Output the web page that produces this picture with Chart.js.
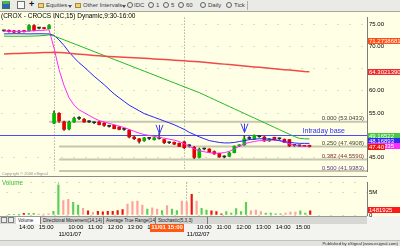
<!DOCTYPE html>
<html>
<head>
<meta charset="utf-8">
<script src="https://cdn.jsdelivr.net/npm/chart.js@4.4.1/dist/chart.umd.min.js"></script>
<style>
body { margin: 0; width: 400px; height: 246px; overflow: hidden; position: relative; background: #f3f3ef; font-family: 'Liberation Sans', Arial, sans-serif; }
.abs { position: absolute; white-space: nowrap; }
#toolbar { left: 0; top: 0; width: 400px; height: 11px; background: #ebebe6; border-bottom: 1px solid #a8a8a0; font-size: 6px; color: #404040; }
#toolbar .t { top: 2px; }
.folder { top: 3px; width: 6px; height: 5px; background: #ecd27a; border: 1px solid #a88a38; box-sizing: border-box; }
.drop { top: 5px; width: 0; height: 0; border-left: 2px solid transparent; border-right: 2px solid transparent; border-top: 3px solid #505050; }
.circ { top: 2px; width: 6px; height: 6px; border: 1px solid #606060; border-radius: 50%; box-sizing: border-box; }
#plotbg { left: 0; top: 12px; width: 400px; height: 204px; background: #ffffe6; }
canvas { position: absolute; left: 0; }
#price { top: 12px; }
#vol { top: 177px; }
#sep { left: 0; top: 176px; width: 367px; height: 1px; background: #8c8c8c; }
#title { left: 1px; top: 12px; font-size: 6.5px; color: #000; }
#copy { left: 2px; top: 171px; font-size: 4px; color: #909090; }
#volname { left: 2px; top: 179px; font-size: 6.3px; color: #3cbc3c; }
#tabs { left: 0; top: 216px; width: 367px; height: 7px; background: #d6d6d2; border-top: 1px solid #9a9a9a; font-size: 4.6px; color: #202020; }
.navb { top: 0; width: 6px; height: 6px; border: 1px solid #808080; background: #ececec; box-sizing: border-box; }
.tab { top: 0; height: 7px; line-height: 7px; padding-left: 2px; border-right: 1px solid #7a7a7a; box-sizing: border-box; overflow: hidden; }
.tab.on { background: #ffffff; }
#status { left: 0; top: 240px; width: 400px; height: 6px; background: #e2e2de; border-top: 1px solid #c0c0c0; font-size: 4.2px; color: #303030; }
</style>
</head>
<body>
<div id="toolbar" class="abs">
  <div class="abs" style="left:2px;top:1px;width:8px;height:8px;box-sizing:border-box;background:#2e62c8;border:1px solid #3a7a3a;border-top:3px solid #48b848"></div>
  <div class="abs" style="left:17px;top:1px;width:8px;height:8px;box-sizing:border-box;border:1px solid #707070;background:#fafafa"></div>
  <div class="abs" style="left:29px;top:-1px;font-size:9px;font-weight:bold;color:#111">+</div>
  <div class="abs folder" style="left:38px"></div>
  <div class="abs t" style="left:46px">Equities</div>
  <div class="abs drop" style="left:68px"></div>
  <div class="abs folder" style="left:75px"></div>
  <div class="abs t" style="left:83px">Other Intervals</div>
  <div class="abs drop" style="left:122px"></div>
  <div class="abs circ" style="left:127px"></div><div class="abs t" style="left:134px">IDC</div>
  <div class="abs circ" style="left:148px"></div><div class="abs t" style="left:156px">1</div>
  <div class="abs circ" style="left:163px"></div><div class="abs t" style="left:171px">5</div>
  <div class="abs circ" style="left:178px"></div><div class="abs t" style="left:186px">60</div>
  <div class="abs circ" style="left:200px"></div><div class="abs t" style="left:208px">Daily</div>
  <div class="abs circ" style="left:226px"></div><div class="abs t" style="left:234px">Tick</div>
  <div class="abs" style="left:247px;top:1px;width:1px;height:9px;background:#b0b0a8"></div>
</div>
<div id="plotbg" class="abs"></div>
<canvas id="price" width="400" height="165"></canvas>
<canvas id="vol" width="400" height="63"></canvas>
<div id="sep" class="abs"></div>
<div id="title" class="abs">(CROX - CROCS INC,15) Dynamic,9:30-16:00</div>
<div id="copy" class="abs">Copyright © 2006 eSignal</div>
<div id="volname" class="abs">Volume</div>
<div id="tabs" class="abs">
  <div class="abs navb" style="left:1px"></div>
  <div class="abs navb" style="left:8px"></div>
  <div class="abs tab on" style="left:16px;width:25px">Volume</div>
  <div class="abs tab" style="left:41px;width:63px">Directional Movement(14,14)</div>
  <div class="abs tab" style="left:104px;width:52px">Average True Range(14)</div>
  <div class="abs tab" style="left:156px;width:52px">Stochastic(5,3,3)</div>
</div>
<div id="status" class="abs"><span class="abs" style="right:2px;top:0">Published by eSignal (www.esignal.com)</span></div>

<script>
// 15 minute bars: 10 bars of 10/31, then full sessions of 11/01 and 11/02
var sessionTimes = ['9:30','9:45','10:00','10:15','10:30','10:45','11:00','11:15','11:30','11:45','12:00','12:15','12:30',
    '12:45','13:00','13:15','13:30','13:45','14:00','14:15','14:30','14:45','15:00','15:15','15:30','15:45'];
var emptySlots = 11;
var dayStarts = [10, 36];

var tickBar = [2, 6, 10, 12, 16, 20, 24, 28, 32, 36, 38, 42, 46, 50, 54, 58];
var tickText = ['14:00', '15:00', ['', '11/01/07'], '10:00', '11:00', '12:00', '13:00', '14:00', '15:00',
    ['', '11/02/07'], '10:00', '11:00', '12:00', '13:00', '14:00', '15:00'];

var opens = [73.5,73.6,73.5,73.4,73.5,73.5,74.7,74.1,74.1,74.0,
    52.7,54.9,53.0,51.4,53.0,53.8,53.6,53.0,52.8,52.95,52.7,52.0,52.2,51.8,51.3,51.1,49.6,49.2,48.8,49.3,49.0,49.3,49.0,48.3,48.4,48.2,
    48.5,47.6,47.3,45.0,46.9,46.9,46.3,45.9,45.1,45.3,46.1,47.6,47.8,49.3,49.1,49.7,49.6,48.7,49.5,49.2,49.1,49.0,47.7,47.6,47.6,47.7];
var highs = [73.6,73.7,73.6,73.6,73.6,74.9,74.9,74.3,74.3,74.9,
    55.5,55.1,53.2,53.2,54.1,54.2,53.8,53.3,53.0,53.1,52.9,52.3,52.3,52.0,51.5,51.3,49.8,49.3,49.5,49.5,49.5,50.4,49.1,48.5,48.5,48.3,
    48.7,47.9,47.5,47.1,47.1,47.0,46.5,46.0,45.4,46.2,47.6,47.9,50.0,49.7,50.1,50.0,49.8,49.3,49.6,49.4,49.2,49.1,47.9,47.8,47.7,47.8];
var lows = [73.4,73.2,73.1,73.1,73.2,73.4,73.5,73.9,73.9,73.9,
    52.6,52.9,51.1,51.2,52.9,53.5,52.9,52.8,52.6,52.3,52.0,51.8,51.4,51.2,51.1,49.4,49.0,48.2,48.6,49.0,48.9,49.1,48.1,48.1,47.9,47.4,
    47.0,47.3,44.7,44.9,46.7,46.1,45.7,45.0,44.9,45.2,46.0,47.4,47.7,49.0,49.0,49.5,48.6,48.6,48.9,49.0,48.3,47.4,47.5,47.4,47.4,47.3];
var closes = [73.5,73.3,73.2,73.2,73.3,74.7,73.6,74.1,74.0,74.7,
    54.9,53.2,51.3,52.9,53.8,53.8,53.0,53.0,52.8,52.4,52.2,52.0,51.5,51.3,51.3,49.6,49.2,48.6,49.4,49.3,49.4,49.3,48.3,48.3,48.0,47.5,
    47.2,47.6,45.0,46.8,46.9,46.2,45.8,45.1,45.1,46.0,47.5,47.7,49.2,49.3,50.0,49.7,48.7,49.2,49.0,49.2,48.4,47.6,47.7,47.6,47.5,47.4];

// volume in millions, tone g = up, r = down, p = light down
var volumes = [0.05,0.05,0.05,0.35,0.35,0.35,0.2,0.2,0.25,0.8,
    6.7,3.2,3.5,2.8,2.2,1.5,0.9,0.6,0.8,0.7,0.8,0.8,1.0,1.2,2.4,3.0,3.1,2.2,1.3,1.6,1.3,1.0,2.1,1.3,1.0,3.1,
    2.9,4.6,3.1,1.5,1.1,0.9,0.77,0.26,0.77,0.45,1.4,0.77,2.8,0.9,1.1,0.77,0.45,0.45,0.26,0.26,0.45,0.64,0.64,0.9,0.45,0.9];
var volTone = ['g','g','g','r','g','g','p','p','p','g',
    'g','p','p','g','g','p','r','p','r','r','r','r','r','r','p','p','p','p','g','p','p','g','p','g','g','p',
    'p','r','p','g','g','r','r','r','g','g','g','g','g','p','p','p','g','g','g','g','p','p','p','g','g','r'];

var lineRed = [68.29,68.33,68.37,68.41,68.45,68.49,68.53,68.57,68.60,68.63,
    68.65,68.62,68.55,68.45,68.35,68.25,68.15,68.05,67.96,67.88,67.80,67.74,67.68,67.62,67.55,67.49,67.43,67.37,67.31,67.25,67.18,67.10,67.03,66.96,66.88,66.81,
    66.74,66.66,66.59,66.52,66.41,66.31,66.21,66.10,66.00,65.90,65.79,65.69,65.59,65.48,65.38,65.28,65.17,65.07,64.97,64.86,64.76,64.66,64.55,64.45,64.35,64.30];
var lineGreen = [72.30,72.28,72.27,72.27,72.28,72.30,72.32,72.36,72.45,72.58,
    72.34,71.90,71.46,71.02,70.58,70.14,69.70,69.26,68.82,68.38,67.94,67.50,67.06,66.62,66.18,65.74,65.30,64.86,64.42,63.98,63.54,63.10,62.66,62.22,61.78,61.34,
    60.90,60.46,60.02,59.58,59.06,58.54,58.02,57.50,56.98,56.46,55.94,55.42,54.90,54.38,53.86,53.34,52.82,52.30,51.78,51.26,50.74,50.22,49.70,49.30,49.20,49.17];
var lineBlue = [72.80,72.82,72.84,72.83,72.82,72.80,72.82,72.83,72.82,72.78,
    72.48,71.44,70.18,68.71,67.45,66.30,65.36,64.31,63.26,62.32,61.37,60.33,59.28,58.44,57.60,56.76,56.13,55.50,54.87,54.45,54.03,53.62,53.20,52.78,52.36,51.83,
    51.31,50.65,50.16,49.63,49.21,48.79,48.58,48.38,48.27,48.27,48.38,48.58,48.79,49.00,49.11,49.21,49.21,49.11,49.00,48.79,48.58,48.38,48.27,48.17,48.17,48.17];
var lineMagenta = [73.45,73.42,73.38,73.35,73.33,73.45,73.50,73.58,73.62,73.75,
    69.55,64.73,61.16,58.44,56.76,55.71,55.08,54.45,53.83,53.30,52.99,52.67,52.36,52.04,51.73,51.31,50.89,50.47,50.16,49.95,49.74,49.53,49.32,49.11,48.90,48.58,
    48.06,47.54,46.91,46.49,46.28,46.07,45.96,45.96,46.07,46.38,46.91,47.54,48.06,48.38,48.58,48.79,48.79,48.90,48.90,48.79,48.48,48.06,47.75,47.54,47.54,47.49];

var fibRatio = ['0.000', '0.250', '0.382', '0.500'];
var fibLevel = [53.0433, 47.4908, 44.5590, 41.9383];
var fibStart = [9, 11, 11, 11];
var fibTextColor = ['#3c3c3c', '#4a4a30', '#7a3232', '#5e3c82'];

var baseLevel = 50.0;
var baseText = 'Intraday base';

var markBar = [31, 48];
var markTip = [50.3, 50.6];

var tagText = ['71.2738681', '64.3021390', '49.16522', '48.16893', '47.49335', '47.40'];
var tagValue = [71.2738681, 64.302139, 49.16522, 48.16893, 47.49335, 47.40];
var tagColor = ['#ff4e16', '#f02a2a', '#46c846', '#2e2ef4', '#ff2eff', '#f01414'];

var volTagText = '1481925';
var volTagValue = 1.481925;
var cursorBar = 32;
var cursorText = '11/01 15:00';

var hiddenTicks = [65, 50];

Chart.defaults.font.family = "'Liberation Sans', Arial, sans-serif";
Chart.defaults.font.size = 6;

var labels = sessionTimes.slice(16).concat(sessionTimes, sessionTimes);
while (labels.length < opens.length + emptySlots) labels.push('');

function pad(arr) {
    return arr.concat(new Array(emptySlots).fill(null));
}

var bodies = opens.map(function (o, i) { return [o, closes[i]]; });
var wicks = lows.map(function (l, i) { return [l, highs[i]]; });

function candleColor(i) {
    if (closes[i] > opens[i]) return '#00b800';
    if (closes[i] < opens[i]) return '#e40000';
    return '#2a2a2a';
}

var toneColor = { g: '#58d058', r: '#ee1010', p: '#ffa0a0' };

var sepColor = function (c) {
    return dayStarts.indexOf(c.index) >= 0 ? '#8c8c8c' : 'rgba(0,0,0,0)';
};

function tag(ctx, x, y, text, color, w) {
    ctx.fillStyle = color;
    ctx.fillRect(x, Math.round(y - 3), w, 6);
    ctx.fillStyle = '#ffffff';
    ctx.font = "6px 'Liberation Sans', Arial, sans-serif";
    ctx.textBaseline = 'middle';
    ctx.textAlign = 'left';
    ctx.fillText(text, x + 1, Math.round(y - 3) + 3.3);
}

var priceExtras = {
    id: 'priceExtras',
    beforeDatasetsDraw: function (chart) {
        var ctx = chart.ctx, xs = chart.scales.x, ys = chart.scales.y, area = chart.chartArea;
        ctx.save();
        ctx.strokeStyle = '#c6c6ae';
        ctx.lineWidth = 2;
        fibLevel.forEach(function (lv, k) {
            var y = ys.getPixelForValue(lv);
            ctx.beginPath();
            ctx.moveTo(xs.getPixelForValue(fibStart[k]), y);
            ctx.lineTo(area.right, y);
            ctx.stroke();
        });
        var by = Math.round(ys.getPixelForValue(baseLevel)) + 0.5;
        ctx.strokeStyle = '#4a4aff';
        ctx.lineWidth = 1;
        ctx.beginPath();
        ctx.moveTo(area.left - 2, by);
        ctx.lineTo(area.right, by);
        ctx.stroke();
        ctx.restore();
    },
    afterDatasetsDraw: function (chart) {
        var ctx = chart.ctx, xs = chart.scales.x, ys = chart.scales.y, area = chart.chartArea;
        ctx.save();
        ctx.textAlign = 'right';
        ctx.textBaseline = 'alphabetic';
        ctx.font = "6px 'Liberation Sans', Arial, sans-serif";
        fibLevel.forEach(function (lv, k) {
            ctx.fillStyle = fibTextColor[k];
            ctx.fillText(fibRatio[k] + ' (' + lv.toFixed(4) + ')', area.right - 3, ys.getPixelForValue(lv) - 1.5);
        });
        ctx.font = "7px 'Liberation Sans', Arial, sans-serif";
        ctx.fillStyle = '#2e2eff';
        ctx.fillText(baseText, area.right - 22, ys.getPixelForValue(baseLevel) - 2);
        ctx.strokeStyle = '#3a3aff';
        ctx.lineWidth = 1;
        markBar.forEach(function (b, k) {
            var x = Math.round(xs.getPixelForValue(b)) + 0.5, y = ys.getPixelForValue(markTip[k]);
            ctx.beginPath();
            ctx.moveTo(x - 3.5, y - 9);
            ctx.lineTo(x, y);
            ctx.lineTo(x + 3.5, y - 9);
            ctx.moveTo(x, y - 9);
            ctx.lineTo(x, y);
            ctx.stroke();
        });
        ctx.restore();
    },
    afterDraw: function (chart) {
        var ctx = chart.ctx, ys = chart.scales.y, x = chart.chartArea.right + 1;
        ctx.save();
        var ys0 = tagValue.map(function (v) { return ys.getPixelForValue(v); });
        // full width tags stacked upward so they do not overlap, the close tag sits on top of the last one
        var placed = [ys0[0], ys0[1], 0, 0, ys0[4], ys0[5]];
        placed[3] = Math.min(ys0[3], placed[4] - 5);
        placed[2] = Math.min(ys0[2], placed[3] - 5);
        for (var k = 0; k < tagText.length; k++) {
            var w = k === 5 ? 17 : 33;
            tag(ctx, x, placed[k], tagText[k], tagColor[k], w);
        }
        ctx.restore();
    }
};

var volExtras = {
    id: 'volExtras',
    afterDraw: function (chart) {
        var ctx = chart.ctx, xs = chart.scales.x, ys = chart.scales.y, area = chart.chartArea;
        ctx.save();
        tag(ctx, area.right + 1, Math.min(ys.getPixelForValue(volTagValue) + 2, area.bottom - 4), volTagText, '#ff1a1a', 33);
        var cx = xs.getPixelForValue(cursorBar);
        var top = area.bottom + 8;
        ctx.fillStyle = '#ff5a14';
        ctx.fillRect(Math.round(cx - 17), top, 34, 9);
        ctx.fillStyle = '#ffffff';
        ctx.font = "bold 6px 'Liberation Sans', Arial, sans-serif";
        ctx.textAlign = 'center';
        ctx.textBaseline = 'middle';
        ctx.fillText(cursorText, cx, top + 4.8);
        ctx.restore();
    }
};

var lineDs = function (data, color, width) {
    return { type: 'line', data: pad(data), borderColor: color, borderWidth: width, pointRadius: 0, tension: 0, order: 0 };
};

new Chart(document.getElementById('price'), {
    type: 'bar',
    data: {
        labels: labels,
        datasets: [
            lineDs(lineRed, '#f24848', 1.5),
            lineDs(lineGreen, '#22b822', 1),
            lineDs(lineBlue, '#2424ff', 1),
            lineDs(lineMagenta, '#ff26ff', 1),
            {
                data: pad(bodies),
                backgroundColor: function (c) { return candleColor(c.dataIndex); },
                barThickness: 3, minBarLength: 1, grouped: false, order: 1
            },
            {
                data: pad(wicks),
                backgroundColor: '#484848',
                barThickness: 1, grouped: false, order: 2
            }
        ]
    },
    options: {
        responsive: false,
        animation: false,
        events: [],
        layout: { padding: { left: 1.5, right: 0, top: 0, bottom: 0 } },
        plugins: { legend: { display: false }, tooltip: { enabled: false } },
        scales: {
            x: {
                offset: true,
                grid: { offset: false, drawTicks: false, color: sepColor },
                border: { display: false, dash: [1, 2] },
                ticks: { display: false, autoSkip: false },
                afterFit: function (s) { s.height = 0; }
            },
            y: {
                position: 'right',
                min: 41.86,
                max: 76.47,
                grid: { drawTicks: false, color: '#b4b4a8' },
                border: { display: true, color: '#7c7c7c', dash: [1, 11] },
                ticks: {
                    stepSize: 5, includeBounds: false, padding: 2, color: '#000',
                    callback: function (v) { return hiddenTicks.indexOf(v) >= 0 ? '' : v.toFixed(2); }
                },
                afterFit: function (s) { s.width = 33; }
            }
        }
    },
    plugins: [priceExtras]
});

new Chart(document.getElementById('vol'), {
    type: 'bar',
    data: {
        labels: labels,
        datasets: [{
            data: pad(volumes),
            backgroundColor: function (c) { return toneColor[volTone[c.dataIndex]]; },
            barThickness: 1.5
        }]
    },
    options: {
        responsive: false,
        animation: false,
        events: [],
        layout: { padding: { left: 1.5, right: 0, top: 0, bottom: 0 } },
        plugins: { legend: { display: false }, tooltip: { enabled: false } },
        scales: {
            x: {
                offset: true,
                grid: { offset: false, drawTicks: false, color: sepColor },
                border: { display: false, dash: [1, 2] },
                ticks: {
                    autoSkip: false, maxRotation: 0, align: 'start', padding: 9, color: '#000',
                    callback: function (v, i) { var k = tickBar.indexOf(i); return k < 0 ? '' : tickText[k]; }
                },
                afterFit: function (s) { s.height = 25; }
            },
            y: {
                position: 'right',
                min: 0,
                max: 7.2,
                grid: { drawTicks: false, color: '#b4b4a8' },
                border: { display: true, color: '#7c7c7c', dash: [1, 11] },
                ticks: {
                    stepSize: 5, padding: 2, color: '#000',
                    callback: function (v) { return v === 5 ? '5M' : (v === 0 ? '0' : ''); }
                },
                afterFit: function (s) { s.width = 33; }
            }
        }
    },
    plugins: [volExtras]
});
</script>
</body>
</html>
